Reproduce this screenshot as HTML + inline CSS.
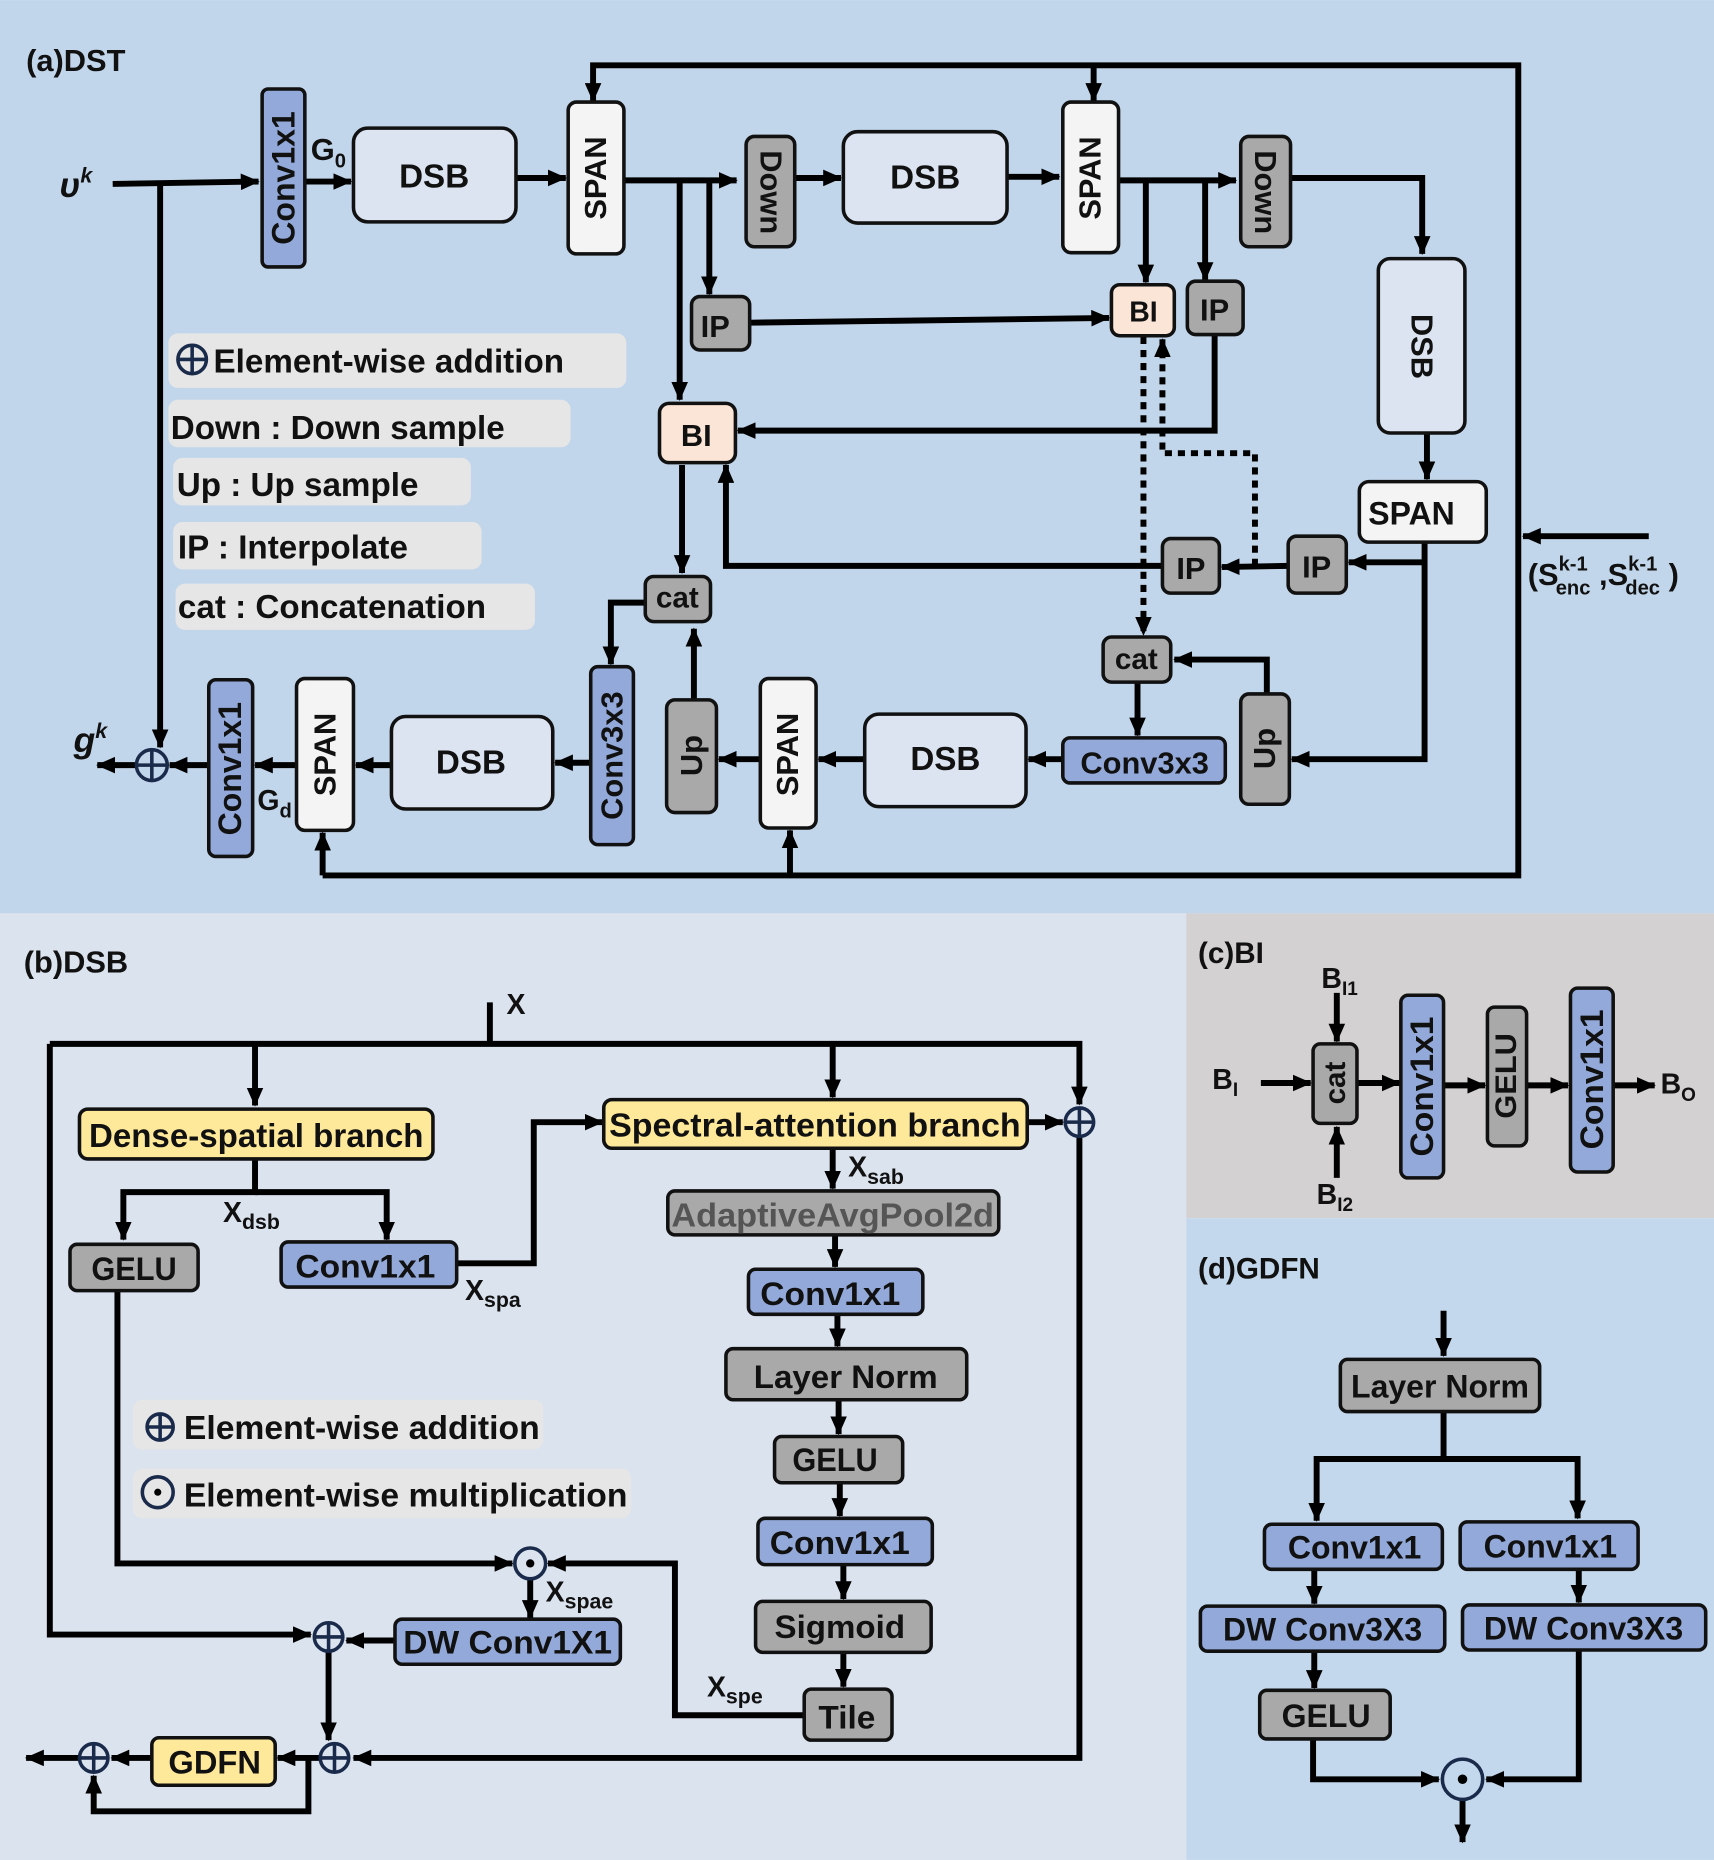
<!DOCTYPE html>
<html><head><meta charset="utf-8"><style>
html,body{margin:0;padding:0;width:1714px;height:1860px;overflow:hidden}
svg{display:block}
text{font-family:"Liberation Sans","DejaVu Sans",sans-serif;font-weight:bold;fill:#111}
.l{fill:none;stroke:#000;stroke-width:5}
.d{fill:none;stroke:#000;stroke-width:5;stroke-dasharray:6,5}
.b{stroke:#111;stroke-width:3}
</style></head><body>
<svg width="1714" height="1860" viewBox="0 0 1445 1568" xmlns="http://www.w3.org/2000/svg">
<defs>
<marker id="a" markerWidth="16" markerHeight="14" refX="15" refY="7" orient="auto" markerUnits="userSpaceOnUse"><path d="M0,0L16,7L0,14z" fill="#000"/></marker>
</defs>
<rect x="0" y="0" width="1445" height="770" fill="#c2d6eb"/>
<rect x="0" y="770" width="1000" height="798" fill="#dbe3ef"/>
<rect x="1000" y="770" width="445" height="257" fill="#d3d1d2"/>
<rect x="1000" y="1027" width="445" height="541" fill="#c3d8ec"/>

<!-- ===== (a) ===== -->
<text x="22" y="60" font-size="26">(a)DST</text>
<text x="50" y="166" font-size="30" font-family="Liberation Serif" font-style="italic">υ<tspan font-size="18" dy="-12">k</tspan></text>
<text x="62" y="634" font-size="30" font-family="Liberation Serif" font-style="italic">g<tspan font-size="18" dy="-12">k</tspan></text>

<rect x="142" y="281" width="386" height="46" rx="8" fill="#e6e6e6"/>
<circle cx="162" cy="303" r="12" fill="none" stroke="#1a2a4a" stroke-width="3"/><path d="M150,303H174M162,291V315" stroke="#1a2a4a" stroke-width="3"/>
<text x="180" y="314" font-size="28">Element-wise addition</text>
<rect x="142" y="337" width="339" height="40" rx="8" fill="#e6e6e6"/>
<text x="144" y="370" font-size="28">Down : Down sample</text>
<rect x="146" y="386" width="251" height="40" rx="8" fill="#e6e6e6"/>
<text x="149" y="418" font-size="28">Up : Up sample</text>
<rect x="146" y="440" width="260" height="40" rx="8" fill="#e6e6e6"/>
<text x="150" y="471" font-size="28">IP : Interpolate</text>
<rect x="148" y="492" width="303" height="39" rx="8" fill="#e6e6e6"/>
<text x="150" y="521" font-size="28">cat : Concatenation</text>

<polyline class="l" points="95,155 218,153" marker-end="url(#a)"/>
<polyline class="l" points="135,155 135,630" marker-end="url(#a)"/>
<polyline class="l" points="257,153 296,153" marker-end="url(#a)"/>
<polyline class="l" points="435,150 477,150" marker-end="url(#a)"/>
<polyline class="l" points="272,738 1280,738 1280,55 500,55 500,85" marker-end="url(#a)"/>
<polyline class="l" points="922,55 922,85" marker-end="url(#a)"/>
<polyline class="l" points="272,738 272,702" marker-end="url(#a)"/>
<polyline class="l" points="666,738 666,700" marker-end="url(#a)"/>
<polyline class="l" points="526,152 621,152" marker-end="url(#a)"/>
<polyline class="l" points="573,152 573,337" marker-end="url(#a)"/>
<polyline class="l" points="598,152 598,248" marker-end="url(#a)"/>
<polyline class="l" points="632,272 935,268" marker-end="url(#a)"/>
<polyline class="l" points="670,150 709,150" marker-end="url(#a)"/>
<polyline class="l" points="849,149 893,149" marker-end="url(#a)"/>
<polyline class="l" points="943,152 1042,152" marker-end="url(#a)"/>
<polyline class="l" points="966,152 966,238" marker-end="url(#a)"/>
<polyline class="l" points="1016,152 1016,236" marker-end="url(#a)"/>
<polyline class="l" points="1024,282 1024,363 622,363" marker-end="url(#a)"/>
<polyline class="l" points="1088,150 1199,150 1199,214" marker-end="url(#a)"/>
<polyline class="l" points="1203,365 1203,404" marker-end="url(#a)"/>
<polyline class="l" points="1201,457 1201,640 1089,640" marker-end="url(#a)"/>
<polyline class="l" points="1201,474 1137,474" marker-end="url(#a)"/>
<polyline class="l" points="1086,477 1030,478" marker-end="url(#a)"/>
<polyline class="l" points="980,477 612,477 612,392" marker-end="url(#a)"/>
<polyline class="d" points="964,284 964,535" marker-end="url(#a)"/>
<polyline class="d" points="1058,477 1058,382 980,382 980,286" marker-end="url(#a)"/>
<polyline class="l" points="959,575 959,620" marker-end="url(#a)"/>
<polyline class="l" points="1068,585 1068,556 990,556" marker-end="url(#a)"/>
<polyline class="l" points="896,640 867,640" marker-end="url(#a)"/>
<polyline class="l" points="729,640 690,640" marker-end="url(#a)"/>
<polyline class="l" points="641,640 606,640" marker-end="url(#a)"/>
<polyline class="l" points="585,590 585,530" marker-end="url(#a)"/>
<polyline class="l" points="575,392 575,483" marker-end="url(#a)"/>
<polyline class="l" points="544,508 515,508 515,560" marker-end="url(#a)"/>
<polyline class="l" points="498,643 468,643" marker-end="url(#a)"/>
<polyline class="l" points="330,645 300,645" marker-end="url(#a)"/>
<polyline class="l" points="250,645 215,645" marker-end="url(#a)"/>
<polyline class="l" points="176,645 143,645" marker-end="url(#a)"/>
<polyline class="l" points="115,645 82,645" marker-end="url(#a)"/>
<polyline class="l" points="1390,452 1284,452" marker-end="url(#a)"/>
<circle cx="128" cy="645" r="13" fill="none" stroke="#1a2a4a" stroke-width="3"/><path d="M115,645H141M128,632V658" stroke="#1a2a4a" stroke-width="3"/>

<rect class="b" x="221" y="75" width="36" height="150" rx="5" fill="#92a9d9"/>
<text transform="translate(239,150) rotate(-90)" text-anchor="middle" dominant-baseline="central" font-size="27">Conv1x1</text>
<text x="262" y="135" font-size="26">G<tspan font-size="17" dy="6">0</tspan></text>
<rect class="b" x="298" y="108" width="137" height="79" rx="12" fill="#dce4f2"/>
<text x="366" y="158" text-anchor="middle" font-size="28">DSB</text>
<rect class="b" x="479" y="86" width="47" height="128" rx="7" fill="#f4f4f4"/>
<text transform="translate(502,150) rotate(-90)" text-anchor="middle" dominant-baseline="central" font-size="26">SPAN</text>
<rect class="b" x="629" y="115" width="41" height="93" rx="7" fill="#a9a9a9"/>
<text transform="translate(650,162) rotate(90)" text-anchor="middle" dominant-baseline="central" font-size="26">Down</text>
<rect class="b" x="583" y="250" width="49" height="45" rx="7" fill="#a9a9a9"/>
<text x="603" y="284" text-anchor="middle" font-size="26">IP</text>
<rect class="b" x="556" y="340" width="64" height="50" rx="8" fill="#fbe5d6"/>
<text x="587" y="376" text-anchor="middle" font-size="26">BI</text>
<rect class="b" x="711" y="111" width="138" height="77" rx="12" fill="#dce4f2"/>
<text x="780" y="159" text-anchor="middle" font-size="28">DSB</text>
<rect class="b" x="896" y="86" width="47" height="127" rx="7" fill="#f4f4f4"/>
<text transform="translate(919,150) rotate(-90)" text-anchor="middle" dominant-baseline="central" font-size="26">SPAN</text>
<rect class="b" x="1046" y="115" width="42" height="93" rx="7" fill="#a9a9a9"/>
<text transform="translate(1067,162) rotate(90)" text-anchor="middle" dominant-baseline="central" font-size="26">Down</text>
<rect class="b" x="937" y="240" width="53" height="43" rx="7" fill="#fbe5d6"/>
<text x="964" y="271" text-anchor="middle" font-size="24">BI</text>
<rect class="b" x="1001" y="237" width="47" height="45" rx="7" fill="#a9a9a9"/>
<text x="1024" y="270" text-anchor="middle" font-size="26">IP</text>
<rect class="b" x="1162" y="218" width="73" height="147" rx="10" fill="#dce4f2"/>
<text transform="translate(1199,292) rotate(90)" text-anchor="middle" dominant-baseline="central" font-size="26">DSB</text>
<rect class="b" x="1146" y="406" width="107" height="51" rx="8" fill="#f4f4f4"/>
<text x="1190" y="442" text-anchor="middle" font-size="27">SPAN</text>
<rect class="b" x="1086" y="452" width="49" height="48" rx="7" fill="#a9a9a9"/>
<text x="1110" y="487" text-anchor="middle" font-size="26">IP</text>
<rect class="b" x="980" y="454" width="48" height="46" rx="7" fill="#a9a9a9"/>
<text x="1004" y="488" text-anchor="middle" font-size="26">IP</text>
<rect class="b" x="930" y="537" width="57" height="38" rx="7" fill="#a9a9a9"/>
<text x="958" y="564" text-anchor="middle" font-size="25">cat</text>
<rect class="b" x="1046" y="585" width="41" height="93" rx="7" fill="#a9a9a9"/>
<text transform="translate(1066,631) rotate(-90)" text-anchor="middle" dominant-baseline="central" font-size="26">Up</text>
<rect class="b" x="896" y="622" width="137" height="38" rx="6" fill="#92a9d9"/>
<text x="965" y="652" text-anchor="middle" font-size="26">Conv3x3</text>
<rect class="b" x="729" y="602" width="136" height="78" rx="12" fill="#dce4f2"/>
<text x="797" y="649" text-anchor="middle" font-size="28">DSB</text>
<rect class="b" x="641" y="572" width="47" height="126" rx="7" fill="#f4f4f4"/>
<text transform="translate(664,636) rotate(-90)" text-anchor="middle" dominant-baseline="central" font-size="26">SPAN</text>
<rect class="b" x="562" y="590" width="42" height="95" rx="7" fill="#a9a9a9"/>
<text transform="translate(583,637) rotate(-90)" text-anchor="middle" dominant-baseline="central" font-size="26">Up</text>
<rect class="b" x="544" y="486" width="55" height="38" rx="7" fill="#a9a9a9"/>
<text x="571" y="512" text-anchor="middle" font-size="25">cat</text>
<rect class="b" x="498" y="562" width="36" height="150" rx="6" fill="#92a9d9"/>
<text transform="translate(516,637) rotate(-90)" text-anchor="middle" dominant-baseline="central" font-size="26">Conv3x3</text>
<rect class="b" x="330" y="604" width="136" height="78" rx="12" fill="#dce4f2"/>
<text x="397" y="652" text-anchor="middle" font-size="28">DSB</text>
<rect class="b" x="250" y="572" width="48" height="128" rx="7" fill="#f4f4f4"/>
<text transform="translate(274,636) rotate(-90)" text-anchor="middle" dominant-baseline="central" font-size="26">SPAN</text>
<rect class="b" x="176" y="573" width="37" height="149" rx="6" fill="#92a9d9"/>
<text transform="translate(194,648) rotate(-90)" text-anchor="middle" dominant-baseline="central" font-size="27">Conv1x1</text>
<text x="217" y="683" font-size="24">G<tspan font-size="17" dy="6">d</tspan></text>
<text x="1288" y="493" font-size="26">(S<tspan font-size="17" dy="-12">k-1</tspan><tspan font-size="17" dx="-27" dy="20">enc</tspan><tspan dy="-8"> ,</tspan>S<tspan font-size="17" dy="-12">k-1</tspan><tspan font-size="17" dx="-27" dy="20">dec</tspan><tspan dy="-8"> )</tspan></text>

<!-- ===== (b) ===== -->
<text x="20" y="820" font-size="26">(b)DSB</text>
<text x="427" y="855" font-size="24">X</text>
<polyline class="l" points="413,845 413,880"/>
<polyline class="l" points="42,880 910,880 910,931" marker-end="url(#a)"/>
<polyline class="l" points="42,880 42,1378 262,1378" marker-end="url(#a)"/>
<polyline class="l" points="910,959 910,1482 298,1482" marker-end="url(#a)"/>
<polyline class="l" points="215,880 215,932" marker-end="url(#a)"/>
<polyline class="l" points="215,977 215,1005 104,1005 104,1045" marker-end="url(#a)"/>
<polyline class="l" points="215,1005 326,1005 326,1045" marker-end="url(#a)"/>
<polyline class="l" points="385,1065 450,1065 450,946 508,946" marker-end="url(#a)"/>
<polyline class="l" points="702,880 702,925" marker-end="url(#a)"/>
<polyline class="l" points="866,946 896,946" marker-end="url(#a)"/>
<polyline class="l" points="702,968 702,1002" marker-end="url(#a)"/>
<polyline class="l" points="704,1041 704,1068" marker-end="url(#a)"/>
<polyline class="l" points="706,1108 706,1135" marker-end="url(#a)"/>
<polyline class="l" points="707,1180 707,1209" marker-end="url(#a)"/>
<polyline class="l" points="708,1250 708,1278" marker-end="url(#a)"/>
<polyline class="l" points="711,1319 711,1348" marker-end="url(#a)"/>
<polyline class="l" points="711,1393 711,1422" marker-end="url(#a)"/>
<polyline class="l" points="678,1446 569,1446 569,1318 462,1318" marker-end="url(#a)"/>
<polyline class="l" points="99,1088 99,1318 432,1318" marker-end="url(#a)"/>
<polyline class="l" points="447,1331 447,1364" marker-end="url(#a)"/>
<polyline class="l" points="333,1383 292,1383" marker-end="url(#a)"/>
<polyline class="l" points="277,1393 277,1467" marker-end="url(#a)"/>
<polyline class="l" points="269,1482 234,1482" marker-end="url(#a)"/>
<polyline class="l" points="260,1482 260,1527 79,1527 79,1497" marker-end="url(#a)"/>
<polyline class="l" points="128,1482 94,1482" marker-end="url(#a)"/>
<polyline class="l" points="66,1482 22,1482" marker-end="url(#a)"/>
<g stroke="#1a2a4a" stroke-width="3" fill="none">
<circle cx="910" cy="946" r="12"/><path d="M898,946H922M910,934V958"/>
<circle cx="277" cy="1380" r="12"/><path d="M265,1380H289M277,1368V1392"/>
<circle cx="282" cy="1482" r="12"/><path d="M270,1482H294M282,1470V1494"/>
<circle cx="79" cy="1482" r="12"/><path d="M67,1482H91M79,1470V1494"/>
<circle cx="447" cy="1318" r="13"/>
</g>
<circle cx="447" cy="1318" r="3.5" fill="#000"/>

<rect class="b" x="67" y="935" width="298" height="42" rx="7" fill="#fee99a"/>
<text x="216" y="967" text-anchor="middle" font-size="28" textLength="282" lengthAdjust="spacingAndGlyphs">Dense-spatial branch</text>
<text x="188" y="1030" font-size="24">X<tspan font-size="18" dy="6">dsb</tspan></text>
<rect class="b" x="59" y="1049" width="108" height="39" rx="6" fill="#a9a9a9"/>
<text x="113" y="1079" text-anchor="middle" font-size="27" textLength="72" lengthAdjust="spacingAndGlyphs">GELU</text>
<rect class="b" x="237" y="1047" width="148" height="38" rx="6" fill="#92a9d9"/>
<text x="308" y="1077" text-anchor="middle" font-size="27" textLength="118" lengthAdjust="spacingAndGlyphs">Conv1x1</text>
<text x="392" y="1096" font-size="24">X<tspan font-size="18" dy="6">spa</tspan></text>
<rect class="b" x="509" y="927" width="357" height="41" rx="7" fill="#fee99a"/>
<text x="687" y="958" text-anchor="middle" font-size="28" textLength="347" lengthAdjust="spacingAndGlyphs">Spectral-attention branch</text>
<text x="715" y="992" font-size="24">X<tspan font-size="18" dy="6">sab</tspan></text>
<rect class="b" x="563" y="1004" width="279" height="37" rx="6" fill="#a9a9a9"/>
<text x="702" y="1034" text-anchor="middle" font-size="28" style="fill:#555" textLength="272" lengthAdjust="spacingAndGlyphs">AdaptiveAvgPool2d</text>
<rect class="b" x="631" y="1070" width="147" height="38" rx="6" fill="#92a9d9"/>
<text x="700" y="1100" text-anchor="middle" font-size="27" textLength="118" lengthAdjust="spacingAndGlyphs">Conv1x1</text>
<rect class="b" x="612" y="1137" width="203" height="43" rx="6" fill="#a9a9a9"/>
<text x="713" y="1170" text-anchor="middle" font-size="27" textLength="155" lengthAdjust="spacingAndGlyphs">Layer Norm</text>
<rect class="b" x="653" y="1211" width="108" height="39" rx="6" fill="#a9a9a9"/>
<text x="704" y="1240" text-anchor="middle" font-size="27" textLength="72" lengthAdjust="spacingAndGlyphs">GELU</text>
<rect class="b" x="639" y="1280" width="147" height="39" rx="6" fill="#92a9d9"/>
<text x="708" y="1310" text-anchor="middle" font-size="27" textLength="118" lengthAdjust="spacingAndGlyphs">Conv1x1</text>
<rect class="b" x="637" y="1350" width="148" height="43" rx="6" fill="#a9a9a9"/>
<text x="708" y="1381" text-anchor="middle" font-size="27" textLength="110" lengthAdjust="spacingAndGlyphs">Sigmoid</text>
<rect class="b" x="678" y="1424" width="74" height="43" rx="6" fill="#a9a9a9"/>
<text x="714" y="1457" text-anchor="middle" font-size="27" textLength="48" lengthAdjust="spacingAndGlyphs">Tile</text>
<text x="596" y="1430" font-size="24">X<tspan font-size="18" dy="6">spe</tspan></text>
<text x="460" y="1350" font-size="24">X<tspan font-size="18" dy="6">spae</tspan></text>
<rect class="b" x="333" y="1365" width="190" height="38" rx="6" fill="#92a9d9"/>
<text x="428" y="1394" text-anchor="middle" font-size="27" textLength="176" lengthAdjust="spacingAndGlyphs">DW Conv1X1</text>
<rect class="b" x="128" y="1465" width="104" height="40" rx="6" fill="#fee99a"/>
<text x="181" y="1495" text-anchor="middle" font-size="27" textLength="78" lengthAdjust="spacingAndGlyphs">GDFN</text>
<rect x="112" y="1180" width="346" height="42" rx="8" fill="#e6e6e6"/>
<circle cx="135" cy="1203" r="11" fill="none" stroke="#1a2a4a" stroke-width="3"/><path d="M124,1203H146M135,1192V1214" stroke="#1a2a4a" stroke-width="3"/>
<text x="155" y="1213" font-size="28" textLength="300" lengthAdjust="spacingAndGlyphs">Element-wise addition</text>
<rect x="112" y="1238" width="420" height="42" rx="8" fill="#e6e6e6"/>
<circle cx="133" cy="1258" r="13" fill="none" stroke="#1a2a4a" stroke-width="3"/><circle cx="133" cy="1258" r="3" fill="#000"/>
<text x="155" y="1270" font-size="28" textLength="374" lengthAdjust="spacingAndGlyphs">Element-wise multiplication</text>

<!-- ===== (c) ===== -->
<text x="1010" y="812" font-size="25">(c)BI</text>
<text x="1114" y="833" font-size="24">B<tspan font-size="16" dy="6">I1</tspan></text>
<text x="1110" y="1015" font-size="24">B<tspan font-size="16" dy="6">I2</tspan></text>
<text x="1022" y="918" font-size="24">B<tspan font-size="16" dy="6">I</tspan></text>
<text x="1400" y="922" font-size="24">B<tspan font-size="16" dy="6">O</tspan></text>
<polyline class="l" points="1127,837 1127,878" marker-end="url(#a)"/>
<polyline class="l" points="1127,993 1127,950" marker-end="url(#a)"/>
<polyline class="l" points="1063,913 1105,913" marker-end="url(#a)"/>
<polyline class="l" points="1144,913 1180,913" marker-end="url(#a)"/>
<polyline class="l" points="1217,915 1252,915" marker-end="url(#a)"/>
<polyline class="l" points="1287,915 1322,915" marker-end="url(#a)"/>
<polyline class="l" points="1360,915 1395,915" marker-end="url(#a)"/>
<rect class="b" x="1107" y="880" width="37" height="67" rx="6" fill="#a9a9a9"/>
<text transform="translate(1126,913) rotate(-90)" text-anchor="middle" dominant-baseline="central" font-size="25">cat</text>
<rect class="b" x="1181" y="839" width="36" height="154" rx="6" fill="#92a9d9"/>
<text transform="translate(1199,916) rotate(-90)" text-anchor="middle" dominant-baseline="central" font-size="27" textLength="118" lengthAdjust="spacingAndGlyphs">Conv1x1</text>
<rect class="b" x="1254" y="849" width="33" height="117" rx="6" fill="#a9a9a9"/>
<text transform="translate(1270,907) rotate(-90)" text-anchor="middle" dominant-baseline="central" font-size="25" textLength="72" lengthAdjust="spacingAndGlyphs">GELU</text>
<rect class="b" x="1324" y="833" width="36" height="155" rx="6" fill="#92a9d9"/>
<text transform="translate(1342,910) rotate(-90)" text-anchor="middle" dominant-baseline="central" font-size="27" textLength="118" lengthAdjust="spacingAndGlyphs">Conv1x1</text>

<!-- ===== (d) ===== -->
<text x="1010" y="1078" font-size="25">(d)GDFN</text>
<polyline class="l" points="1217,1105 1217,1143" marker-end="url(#a)"/>
<polyline class="l" points="1217,1190 1217,1230 1110,1230 1110,1282" marker-end="url(#a)"/>
<polyline class="l" points="1217,1230 1330,1230 1330,1280" marker-end="url(#a)"/>
<polyline class="l" points="1108,1323 1108,1352" marker-end="url(#a)"/>
<polyline class="l" points="1331,1323 1331,1351" marker-end="url(#a)"/>
<polyline class="l" points="1108,1392 1108,1423" marker-end="url(#a)"/>
<polyline class="l" points="1107,1466 1107,1500 1213,1500" marker-end="url(#a)"/>
<polyline class="l" points="1331,1391 1331,1500 1253,1500" marker-end="url(#a)"/>
<polyline class="l" points="1233,1517 1233,1553" marker-end="url(#a)"/>
<circle cx="1233" cy="1500" r="17" fill="none" stroke="#1a2a4a" stroke-width="3"/><circle cx="1233" cy="1500" r="4" fill="#000"/>
<rect class="b" x="1130" y="1146" width="168" height="44" rx="6" fill="#a9a9a9"/>
<text x="1214" y="1178" text-anchor="middle" font-size="27">Layer Norm</text>
<rect class="b" x="1066" y="1285" width="150" height="38" rx="6" fill="#92a9d9"/>
<text x="1142" y="1314" text-anchor="middle" font-size="27">Conv1x1</text>
<rect class="b" x="1231" y="1283" width="150" height="40" rx="6" fill="#92a9d9"/>
<text x="1307" y="1313" text-anchor="middle" font-size="27">Conv1x1</text>
<rect class="b" x="1012" y="1354" width="206" height="38" rx="6" fill="#92a9d9"/>
<text x="1115" y="1383" text-anchor="middle" font-size="27">DW Conv3X3</text>
<rect class="b" x="1233" y="1353" width="205" height="38" rx="6" fill="#92a9d9"/>
<text x="1335" y="1382" text-anchor="middle" font-size="27">DW Conv3X3</text>
<rect class="b" x="1062" y="1425" width="110" height="41" rx="6" fill="#a9a9a9"/>
<text x="1118" y="1456" text-anchor="middle" font-size="27">GELU</text>
</svg>
</body></html>
